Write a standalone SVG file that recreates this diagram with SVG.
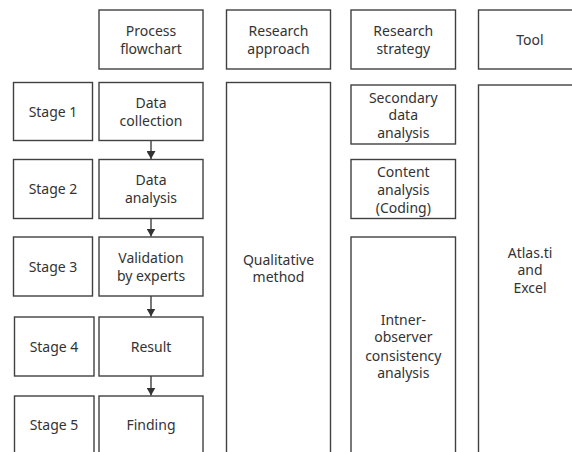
<svg xmlns="http://www.w3.org/2000/svg" width="572" height="452" viewBox="0 0 572 452">
<style>
rect{fill:#fff;stroke:#404040;stroke-width:1.4}
text{font-family:"Noto Sans","Open Sans",sans-serif;font-size:14px;fill:#333;text-anchor:middle}
.c line{stroke:#404040;stroke-width:1.4}
</style>
<defs>
<marker id="ah" viewBox="0 0 8 9" refX="8" refY="4.5" markerWidth="8" markerHeight="9" markerUnits="userSpaceOnUse" orient="auto">
<path d="M0,0 L8,4.5 L0,9 Z" fill="#333"/>
</marker>
</defs>
<rect x="0" y="0" width="572" height="452" style="fill:#fff;stroke:none"/>
<g id="h-process"><rect x="99" y="10" width="104" height="59"/><text x="151" y="36">Process</text><text x="151" y="53.5">flowchart</text></g>
<g id="h-approach"><rect x="226.5" y="10" width="104" height="59"/><text x="278.5" y="36">Research</text><text x="278.5" y="53.5">approach</text></g>
<g id="h-strategy"><rect x="351" y="10" width="104.5" height="59"/><text x="403.3" y="36">Research</text><text x="403.3" y="53.5">strategy</text></g>
<g id="h-tool"><rect x="478.5" y="10" width="104" height="59"/><text x="530" y="45">Tool</text></g>
<g id="stage1"><rect x="13.5" y="82.5" width="79" height="58"/><text x="53" y="116.5">Stage 1</text></g>
<g id="stage2"><rect x="13.5" y="159.5" width="79" height="59"/><text x="53" y="194">Stage 2</text></g>
<g id="stage3"><rect x="13.5" y="237" width="79" height="59"/><text x="53" y="271.5">Stage 3</text></g>
<g id="stage4"><rect x="14.5" y="317" width="79.5" height="59"/><text x="54" y="351.5">Stage 4</text></g>
<g id="stage5"><rect x="14.5" y="396" width="79.5" height="70"/><text x="54" y="430">Stage 5</text></g>
<g id="collection"><rect x="99" y="82.5" width="104" height="58"/><text x="151" y="108">Data</text><text x="151" y="125.5">collection</text></g>
<g id="analysis"><rect x="99" y="159.5" width="104" height="59"/><text x="151" y="185">Data</text><text x="151" y="202.5">analysis</text></g>
<g id="validation"><rect x="99" y="237" width="104" height="59"/><text x="151" y="263">Validation</text><text x="151" y="280.5">by experts</text></g>
<g id="result"><rect x="99" y="317" width="104" height="59"/><text x="151" y="351.5">Result</text></g>
<g id="finding"><rect x="99" y="396" width="104" height="70"/><text x="151" y="430">Finding</text></g>
<g id="qualitative"><rect x="226.5" y="82.5" width="104" height="385"/><text x="278.5" y="265">Qualitative</text><text x="278.5" y="282">method</text></g>
<g id="secondary"><rect x="351" y="85" width="104.5" height="59"/><text x="403.3" y="103">Secondary</text><text x="403.3" y="120">data</text><text x="403.3" y="138">analysis</text></g>
<g id="content"><rect x="351" y="159.5" width="104.5" height="59"/><text x="403.3" y="176.5">Content</text><text x="403.3" y="195">analysis</text><text x="403.3" y="213">(Coding)</text></g>
<g id="interobserver"><rect x="351" y="237" width="104.5" height="230"/><text x="403.3" y="325">Intner-</text><text x="403.3" y="342">observer</text><text x="403.3" y="360.5">consistency</text><text x="403.3" y="378">analysis</text></g>
<g id="tool"><rect x="478.5" y="85" width="104" height="382"/><text x="530" y="258">Atlas.ti</text><text x="530" y="275">and</text><text x="530" y="293">Excel</text></g>
<g class="c" id="connectors">
<line x1="151" y1="140.5" x2="151" y2="159" marker-end="url(#ah)"/>
<line x1="151" y1="218.5" x2="151" y2="236.5" marker-end="url(#ah)"/>
<line x1="151" y1="296" x2="151" y2="316.5" marker-end="url(#ah)"/>
<line x1="151" y1="376" x2="151" y2="395.5" marker-end="url(#ah)"/>
</g>
</svg>
